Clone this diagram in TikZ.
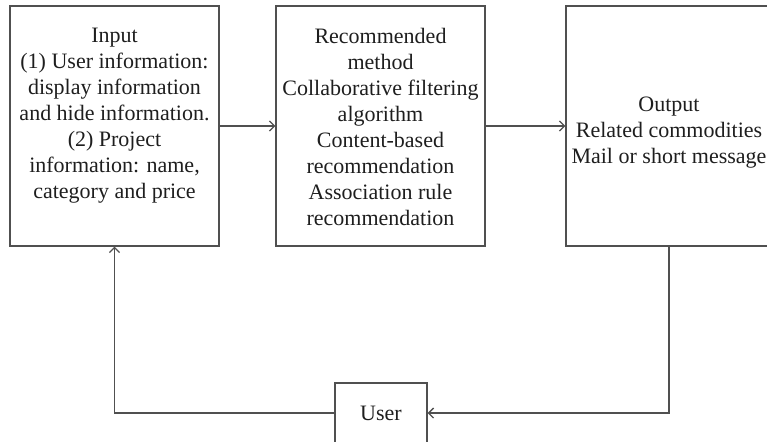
\documentclass[tikz,border=0pt]{standalone}
\usepackage{fontspec}
\setmainfont{Liberation Serif}
\usetikzlibrary{arrows.meta}
\definecolor{linegray}{RGB}{80,80,80}
\definecolor{txt}{RGB}{30,30,30}
\begin{document}
\begin{tikzpicture}[x=1pt,y=-1pt,
  box/.style={draw=linegray, line width=1.3pt, inner sep=0pt, fill=none},
  lbl/.style={align=center, inner sep=0pt, text=txt, font=\fontsize{22}{26}\selectfont},
  conn/.style={draw=linegray, line width=1.3pt, -{Straight Barb[length=5pt,width=10pt,line width=1.3pt]}}]
\useasboundingbox (0,0) rectangle (767,441);
\node[box, minimum width=209pt, minimum height=240pt] (in) at (114.5,126) {};
\node[box, minimum width=209pt, minimum height=240pt] (rm) at (380.5,126) {};
\node[box, minimum width=206pt, minimum height=240pt] (out) at (669,126) {};
\node[box, minimum width=92pt, minimum height=60pt] (user) at (381,413) {};
\node[lbl] (inT) at (114.5,116) {Input\\(1) User information:\\display information\\and hide information.\\(2) Project\\information: name,\\category and price};
\node[lbl] (rmT) at (380.5,127) {Recommended\\method\\Collaborative filtering\\algorithm\\Content-based\\recommendation\\Association rule\\recommendation};
\node[lbl] (outT) at (669,133) {Output\\Related commodities\\Mail or short message};
\node[lbl] (userT) at (381,413) {User};
\draw[conn] (in.east) -- (rm.west);
\draw[conn] (rm.east) -- (out.west);
\draw[conn] (out.south) |- (user.east);
\draw[conn] (user.west) -| (in.south);
\end{tikzpicture}
\end{document}
